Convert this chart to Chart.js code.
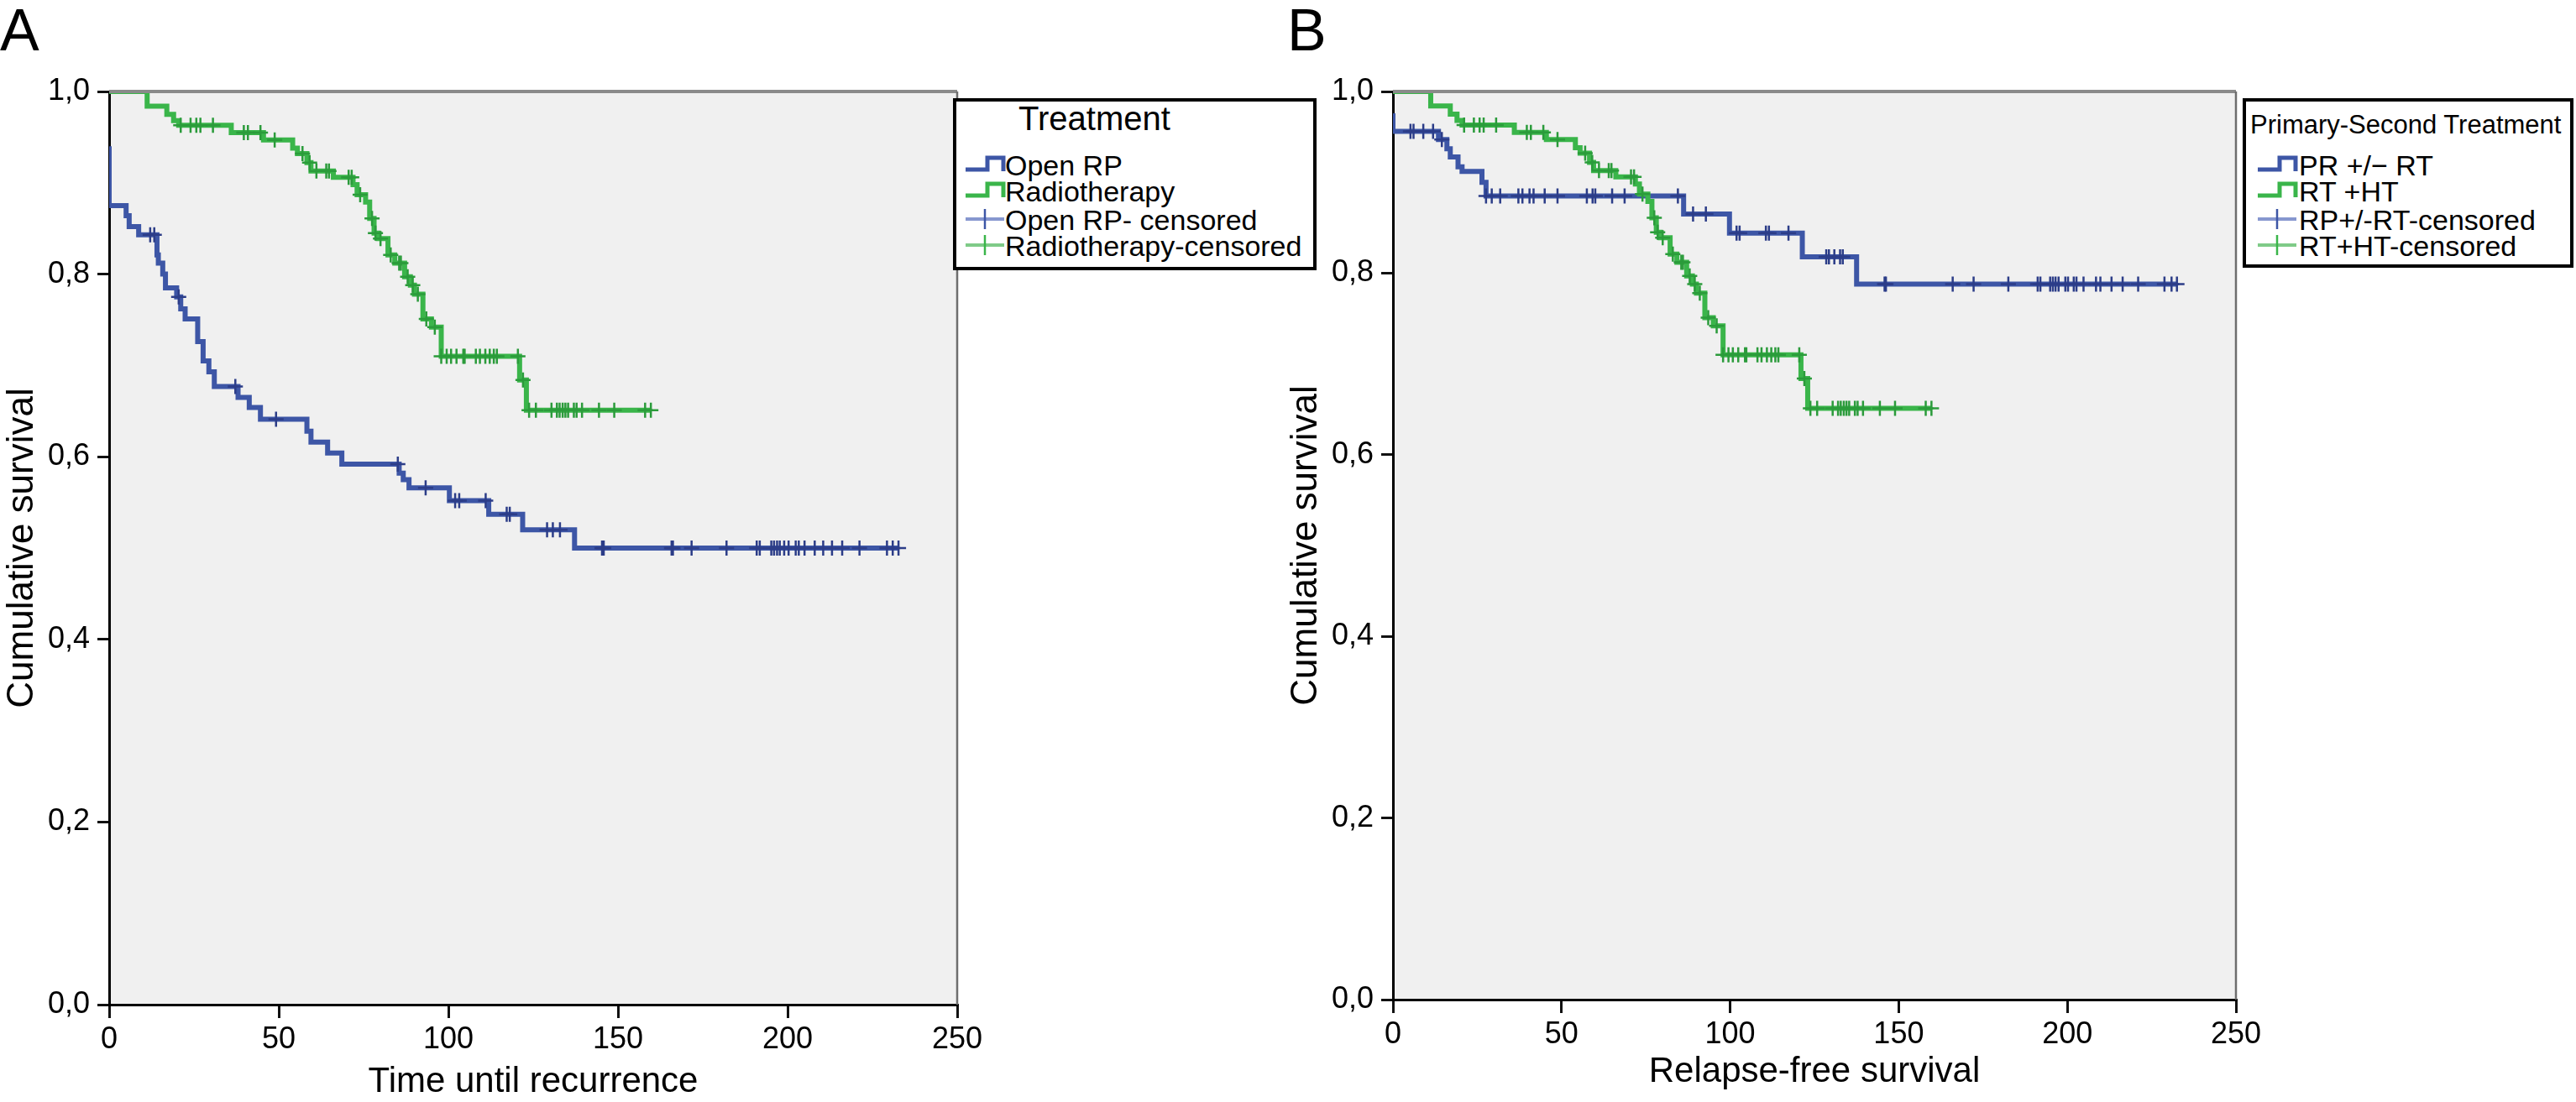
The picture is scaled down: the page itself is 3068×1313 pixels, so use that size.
<!DOCTYPE html>
<html>
<head>
<meta charset="utf-8">
<script src="https://cdn.jsdelivr.net/npm/chart.js@4.4.1/dist/chart.umd.min.js"></script>
<style>
  html, body { margin: 0; padding: 0; background: #fff; }
  body { width: 3068px; height: 1313px; position: relative; overflow: hidden; font-family: "Liberation Sans", Arial, sans-serif; color: #000; }
  canvas { position: absolute; top: 0; }
  .letter { position: absolute; font-size: 70px; line-height: 70px; }
  .legend { position: absolute; background: #fff; border: 4px solid #000; box-sizing: border-box; z-index: 2; }
  .legend div { position: absolute; white-space: nowrap; }
  .legend svg { position: absolute; }
</style>
</head>
<body>
<div class="letter" style="left:0;top:1px">A</div>
<div class="letter" style="left:1533px;top:1px">B</div>
<canvas id="chartA" width="1200" height="1313" style="left:0;width:1200px;height:1313px"></canvas>
<canvas id="chartB" width="1194" height="1313" style="left:1529px;width:1194px;height:1313px"></canvas>

<div class="legend" style="left:1135px;top:117px;width:433px;height:205px">
  <div style="left:74px;top:0;font-size:40px;line-height:40px">Treatment</div>
  <svg style="left:9px;top:62px" width="50" height="26"><path d="M2,19 H28 V5 H47 V21" fill="none" stroke="#3d56a6" stroke-width="5"/></svg>
  <div style="left:58px;top:59px;font-size:34px;line-height:34px">Open RP</div>
  <svg style="left:9px;top:93px" width="50" height="26"><path d="M2,19 H28 V5 H47 V21" fill="none" stroke="#3ab54a" stroke-width="5"/></svg>
  <div style="left:58px;top:90px;font-size:34px;line-height:34px">Radiotherapy</div>
  <svg style="left:9px;top:126px" width="50" height="28"><path d="M2,14 H48" stroke="#8797cf" stroke-width="4"/><path d="M25,2 V26" stroke="#3d56a6" stroke-width="2.5"/></svg>
  <div style="left:58px;top:124px;font-size:34px;line-height:34px">Open RP- censored</div>
  <svg style="left:9px;top:157px" width="50" height="28"><path d="M2,14 H48" stroke="#7fcb88" stroke-width="4"/><path d="M25,2 V26" stroke="#3ab54a" stroke-width="2.5"/></svg>
  <div style="left:58px;top:155px;font-size:34px;line-height:34px">Radiotherapy-censored</div>
</div>

<div class="legend" style="left:2671px;top:117px;width:394px;height:202px">
  <div style="left:5px;top:10px;font-size:31px;line-height:36px">Primary-Second Treatment</div>
  <svg style="left:12px;top:62px" width="50" height="26"><path d="M2,19 H28 V5 H47 V21" fill="none" stroke="#3d56a6" stroke-width="5"/></svg>
  <div style="left:63px;top:59px;font-size:34px;line-height:34px">PR +/&minus; RT</div>
  <svg style="left:12px;top:93px" width="50" height="26"><path d="M2,19 H28 V5 H47 V21" fill="none" stroke="#3ab54a" stroke-width="5"/></svg>
  <div style="left:63px;top:90px;font-size:34px;line-height:34px">RT +HT</div>
  <svg style="left:12px;top:126px" width="50" height="28"><path d="M2,14 H48" stroke="#8797cf" stroke-width="4"/><path d="M25,2 V26" stroke="#3d56a6" stroke-width="2.5"/></svg>
  <div style="left:63px;top:124px;font-size:34px;line-height:34px">RP+/-RT-censored</div>
  <svg style="left:12px;top:157px" width="50" height="28"><path d="M2,14 H48" stroke="#7fcb88" stroke-width="4"/><path d="M25,2 V26" stroke="#3ab54a" stroke-width="2.5"/></svg>
  <div style="left:63px;top:155px;font-size:34px;line-height:34px">RT+HT-censored</div>
</div>

<script>
// axis ticks
const xTicks = [0, 50, 100, 150, 200, 250];
const yTicks = [0, 0.2, 0.4, 0.6, 0.8, 1.0];

// Radiotherapy (A) = RT +HT (B): event times and survival after each step
const rtTimes = [0, 11.2, 17, 19, 20.5, 36, 45.5, 54.1, 55.5, 58.3, 59.5, 66.1, 71.9, 73.1, 75.6, 76.8, 78.1, 79.3, 82.2, 84.2, 87.1, 88.8, 90, 92.5, 95, 97.9, 121, 123];
const rtSurv  = [1.0, 0.984, 0.975, 0.968, 0.963, 0.955, 0.947, 0.938, 0.932, 0.922, 0.913, 0.906, 0.898, 0.887, 0.879, 0.861, 0.845, 0.839, 0.821, 0.812, 0.797, 0.788, 0.778, 0.751, 0.742, 0.710, 0.684, 0.651];
const rtEnd = 159.7;
const rtCensored = [21.1, 24, 25.7, 26.9, 30.6, 39.7, 40.9, 44.6, 48.8, 57, 59.1, 61.1, 64, 64.8, 70.6, 71.5, 74, 77.5, 78.5, 80, 83, 85.5, 86, 88, 89.5, 91, 93.5, 96,
  97.9, 99.5, 100.8, 102.4, 104.4, 104.8, 108.1, 109.3, 110.9, 112.2, 113.4, 114.3, 120.5, 122,
  123.8, 125.8, 130.4, 132, 132.8, 133.7, 134.5, 135.3, 137, 137.8, 139.4, 144.4, 148.9, 158, 159.7];

// Open RP (panel A)
const rpTimes = [0, 0, 5.0, 5.9, 8.7, 14.1, 14.5, 15.8, 16.6, 19.9, 21.1, 22.4, 26.1, 27.7, 29.4, 31.0, 38.0, 41.3, 44.6, 58.3, 59.5, 64.4, 68.6, 85.5, 86.7, 88.4, 100.3, 111.9, 121.9, 137.2];
const rpSurv  = [0.94, 0.875, 0.864, 0.852, 0.843, 0.821, 0.812, 0.800, 0.785, 0.775, 0.762, 0.751, 0.726, 0.705, 0.693, 0.677, 0.665, 0.654, 0.641, 0.628, 0.616, 0.604, 0.592, 0.582, 0.575, 0.566, 0.552, 0.537, 0.520, 0.500];
const rpEnd = 232.7;
const rpCensored = [12.1, 13.3, 20.5, 37.2, 49.2, 85.1, 93.3, 102.0, 103.2, 111.0, 117.2, 118.1, 129.1, 130.8, 132.9,
  145.3, 145.8, 165.8, 166.2, 171.7, 182, 190.9, 191.8, 195.2, 196, 196.9, 197.7, 199, 200.3, 202.4, 203.3, 205, 208, 210.5, 213.1, 216.1, 221.2, 229.3, 231, 232.7];

// PR +/- RT (panel B)
const prTimes = [0, 0, 13.5, 16.0, 17.0, 19.3, 20.5, 26.4, 27.6, 86.2, 99.8, 121.4, 137.5];
const prSurv  = [0.976, 0.956, 0.947, 0.937, 0.928, 0.917, 0.912, 0.900, 0.885, 0.865, 0.844, 0.818, 0.788];
const prEnd = 232.5;
const prCensored = [5.2, 6.1, 9, 11.9, 14.5, 27.6, 29.3, 31.8, 37.2, 38.4, 40.5, 41.7, 45, 48.8, 57.5, 59.2, 60, 65, 68.7, 84.5, 89, 92.8,
  101.9, 102.8, 110.6, 111.5, 117.3, 128.5, 129.3, 130.9, 132.6, 133.4,
  145.8, 146.2, 166, 172.2, 182.5, 191.2, 192, 194.9, 195.7, 196.5, 197.4, 199.4, 200.2, 201.9, 202.7, 204.8, 208.5, 209.8, 213.1, 216.4, 221, 228.8, 230.9, 232.5];

const BLUE = '#3d56a6', BLUE_MARK = '#2c3d88';
const GREEN = '#3ab54a', GREEN_MARK = '#2b9b3b';
const FONT = '"Liberation Sans", Arial, sans-serif';

Chart.defaults.font.family = FONT;
Chart.defaults.color = '#000';

function steps(times, surv, end) {
  const pts = [{ x: times[0], y: surv[0] }];
  for (let i = 1; i < times.length; i++) {
    pts.push({ x: times[i], y: surv[i - 1] });
    pts.push({ x: times[i], y: surv[i] });
  }
  pts.push({ x: end, y: surv[surv.length - 1] });
  return pts;
}

function marks(times, surv, cens) {
  return cens.map(t => {
    let s = surv[0];
    times.forEach((tt, i) => { if (tt <= t) s = surv[i]; });
    return { x: t, y: s };
  });
}

const plotFrame = {
  id: 'plotFrame',
  beforeDraw(chart) {
    const { ctx, chartArea: a } = chart;
    ctx.save();
    ctx.fillStyle = '#f0f0f0';
    ctx.fillRect(a.left, a.top, a.right - a.left, a.bottom - a.top);
    ctx.restore();
  },
  afterDraw(chart) {
    const { ctx, chartArea: a } = chart;
    ctx.save();
    ctx.strokeStyle = '#8a8a8a';
    ctx.lineWidth = 4;
    ctx.beginPath(); ctx.moveTo(a.left, a.top); ctx.lineTo(a.right, a.top); ctx.stroke();
    ctx.strokeStyle = '#6e6e6e';
    ctx.lineWidth = 2.5;
    ctx.beginPath(); ctx.moveTo(a.right, a.top); ctx.lineTo(a.right, a.bottom); ctx.stroke();
    ctx.restore();
  }
};

function makeChart(id, xTitle, xAxisHeight, titlePad, lines) {
  const datasets = [];
  lines.forEach(l => datasets.push({
    data: marks(l.times, l.surv, l.cens), showLine: false,
    pointStyle: 'cross', pointRadius: 9, pointBorderWidth: 2.5,
    pointBorderColor: l.mark, pointBackgroundColor: l.mark
  }));
  lines.forEach(l => datasets.push({
    data: steps(l.times, l.surv, l.end), showLine: true,
    borderColor: l.color, borderWidth: 6, pointRadius: 0, tension: 0
  }));

  return new Chart(document.getElementById(id), {
    type: 'scatter',
    data: { datasets },
    options: {
      responsive: false,
      animation: false,
      devicePixelRatio: 1,
      layout: { padding: { top: 109, right: 60, left: 0, bottom: 0 } },
      plugins: { legend: { display: false }, tooltip: { enabled: false } },
      scales: {
        x: {
          type: 'linear', min: 0, max: 250,
          afterBuildTicks: s => { s.ticks = xTicks.map(v => ({ value: v })); },
          afterFit: s => { s.height = xAxisHeight; },
          ticks: { font: { size: 36 }, color: '#000', padding: 4, maxRotation: 0, autoSkip: false },
          grid: { display: true, drawOnChartArea: false, drawTicks: true, tickLength: 16, color: '#111', lineWidth: 3 },
          border: { display: true, color: '#000', width: 3 },
          title: { display: true, text: xTitle, font: { size: 42, lineHeight: 1.1 }, color: '#000', padding: { top: 0, bottom: titlePad } }
        },
        y: {
          type: 'linear', min: 0, max: 1,
          afterBuildTicks: s => { s.ticks = yTicks.map(v => ({ value: v })); },
          afterFit: s => { s.width = 130; },
          ticks: { font: { size: 36 }, color: '#000', padding: 9, callback: v => v.toFixed(1).replace('.', ',') },
          grid: { display: true, drawOnChartArea: false, drawTicks: true, tickLength: 14, color: '#111', lineWidth: 3 },
          border: { display: true, color: '#000', width: 3 },
          title: { display: true, text: 'Cumulative survival', font: { size: 44, lineHeight: 1.2 }, color: '#000', padding: 0 }
        }
      }
    },
    plugins: [plotFrame]
  });
}

makeChart('chartA', 'Time until recurrence', 116, 0, [
  { times: rtTimes, surv: rtSurv, end: rtEnd, cens: rtCensored, color: GREEN, mark: GREEN_MARK },
  { times: rpTimes, surv: rpSurv, end: rpEnd, cens: rpCensored, color: BLUE, mark: BLUE_MARK }
]);

makeChart('chartB', 'Relapse-free survival', 122, 12, [
  { times: rtTimes, surv: rtSurv, end: rtEnd, cens: rtCensored, color: GREEN, mark: GREEN_MARK },
  { times: prTimes, surv: prSurv, end: prEnd, cens: prCensored, color: BLUE, mark: BLUE_MARK }
]);
</script>
</body>
</html>
